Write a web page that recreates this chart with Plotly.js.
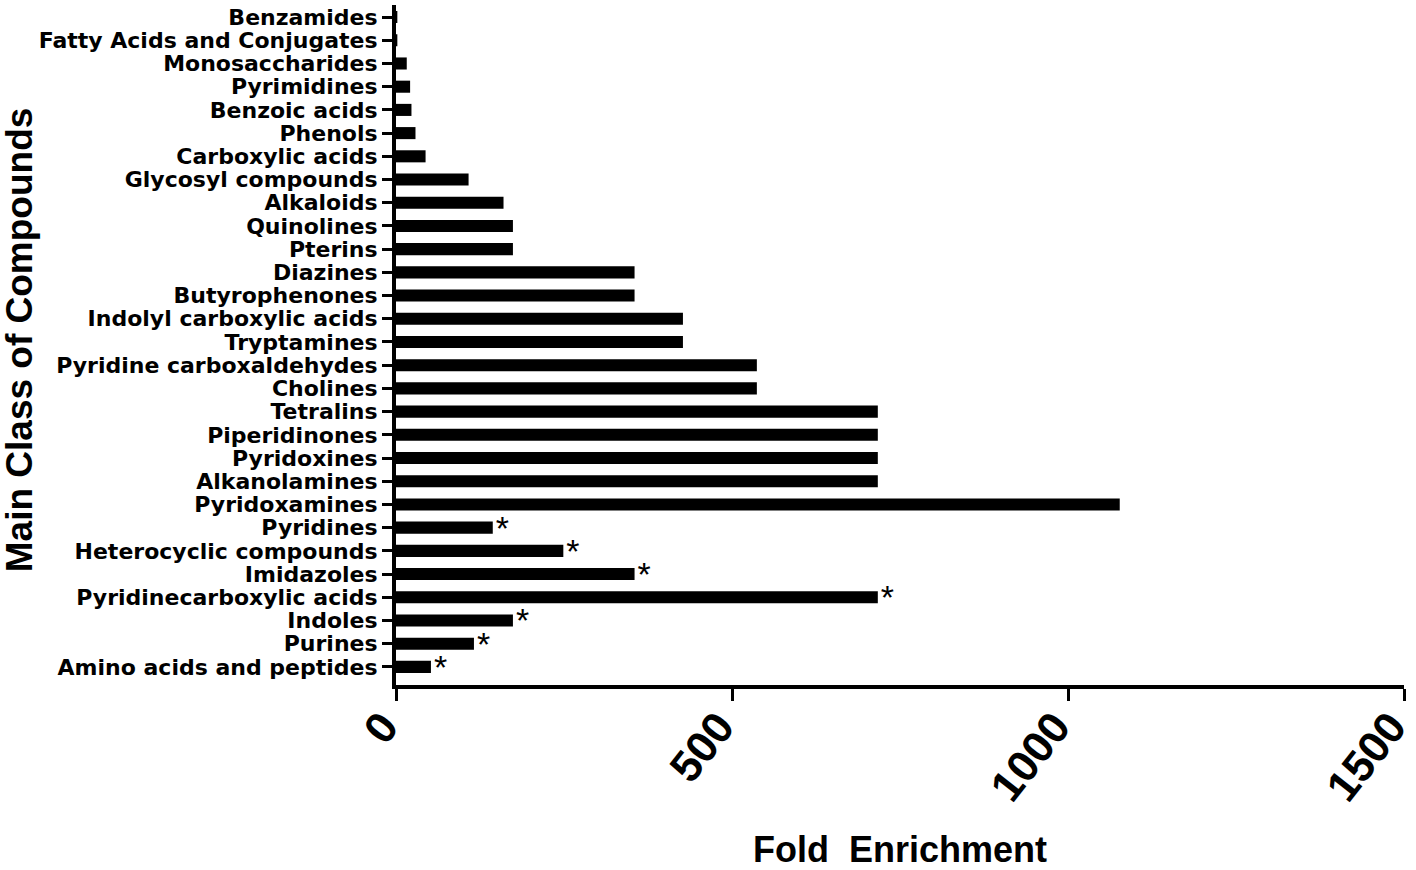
<!DOCTYPE html>
<html>
<head>
<meta charset="utf-8">
<script src="https://cdn.plot.ly/plotly-3.0.1.min.js"></script>
<style>html,body{margin:0;padding:0;background:#fff;}#chart{width:1416px;height:870px;}</style>
</head>
<body>
<div id="chart"></div>
<script>
const categories = [
  "Benzamides","Fatty Acids and Conjugates","Monosaccharides","Pyrimidines","Benzoic acids",
  "Phenols","Carboxylic acids","Glycosyl compounds","Alkaloids","Quinolines","Pterins",
  "Diazines","Butyrophenones","Indolyl carboxylic acids","Tryptamines","Pyridine carboxaldehydes",
  "Cholines","Tetralins","Piperidinones","Pyridoxines","Alkanolamines","Pyridoxamines",
  "Pyridines","Heterocyclic compounds","Imidazoles","Pyridinecarboxylic acids","Indoles",
  "Purines","Amino acids and peptides"
];
const foldEnrichment = [
  2, 2, 16, 21, 23,
  29, 44, 108, 160, 174, 174,
  355, 355, 427, 427, 537,
  537, 717, 717, 717, 717, 1077,
  144, 249, 355, 717, 174,
  116, 52
];
const significance = [
  "","","","","",
  "","","","","","",
  "","","","","",
  "","","","","","",
  "*","*","*","*","*",
  "*","*"
];
const xTicks = [0, 500, 1000, 1500];
const xTitle = "Fold  Enrichment";
const yTitle = "Main Class of Compounds";

const FONT = "Liberation Sans, Arial, sans-serif";
const WIDE = "DejaVu Sans, Liberation Sans, sans-serif";

const trace = {
  type: "bar",
  orientation: "h",
  y: categories,
  x: foldEnrichment,
  text: significance,
  textposition: "outside",
  constraintext: "none",
  cliponaxis: false,
  textfont: {family: FONT, size: 34, color: "#000"},
  marker: {color: "#000", line: {width: 0}},
  width: 0.52,
  hoverinfo: "x+y"
};

const layout = {
  width: 1416,
  height: 870,
  margin: {l: 396, r: 12, t: 5, b: 185},
  paper_bgcolor: "#fff",
  plot_bgcolor: "#fff",
  showlegend: false,
  xaxis: {
    range: [0, 1500],
    tickvals: xTicks,
    ticktext: xTicks.map(String),
    tickangle: -52,
    ticklabeloverflow: "allow",
    ticklabelstandoff: -18,
    ticklabelshift: -13,
    tickfont: {family: FONT, size: 44, color: "#000", weight: "bold"},
    ticks: "outside",
    ticklen: 12,
    tickwidth: 3,
    tickcolor: "#000",
    showline: true,
    linewidth: 4,
    linecolor: "#000",
    showgrid: false,
    zeroline: false,
    automargin: false
  },
  yaxis: {
    type: "category",
    categoryorder: "array",
    categoryarray: categories,
    tickmode: "array",
    tickvals: categories,
    ticktext: categories,
    range: [28.78, -0.52],
    tickfont: {family: WIDE, size: 22, color: "#000", weight: "bold"},
    ticks: "outside",
    ticklen: 10,
    tickwidth: 3,
    tickcolor: "#000",
    showline: true,
    linewidth: 4,
    linecolor: "#000",
    showgrid: false,
    zeroline: false,
    automargin: false
  },
  annotations: [
    {text: xTitle, xref: "paper", yref: "paper", x: 0.5, y: -0.242, xanchor: "center", yanchor: "middle",
     showarrow: false, font: {family: FONT, size: 36, color: "#000", weight: "bold"}},
    {text: yTitle, xref: "paper", yref: "paper", x: -0.374, y: 0.507, xanchor: "center", yanchor: "middle",
     textangle: -90, showarrow: false, font: {family: FONT, size: 37, color: "#000", weight: "bold"}}
  ]
};

Plotly.newPlot("chart", [trace], layout, {displayModeBar: false, staticPlot: true});
</script>
</body>
</html>
